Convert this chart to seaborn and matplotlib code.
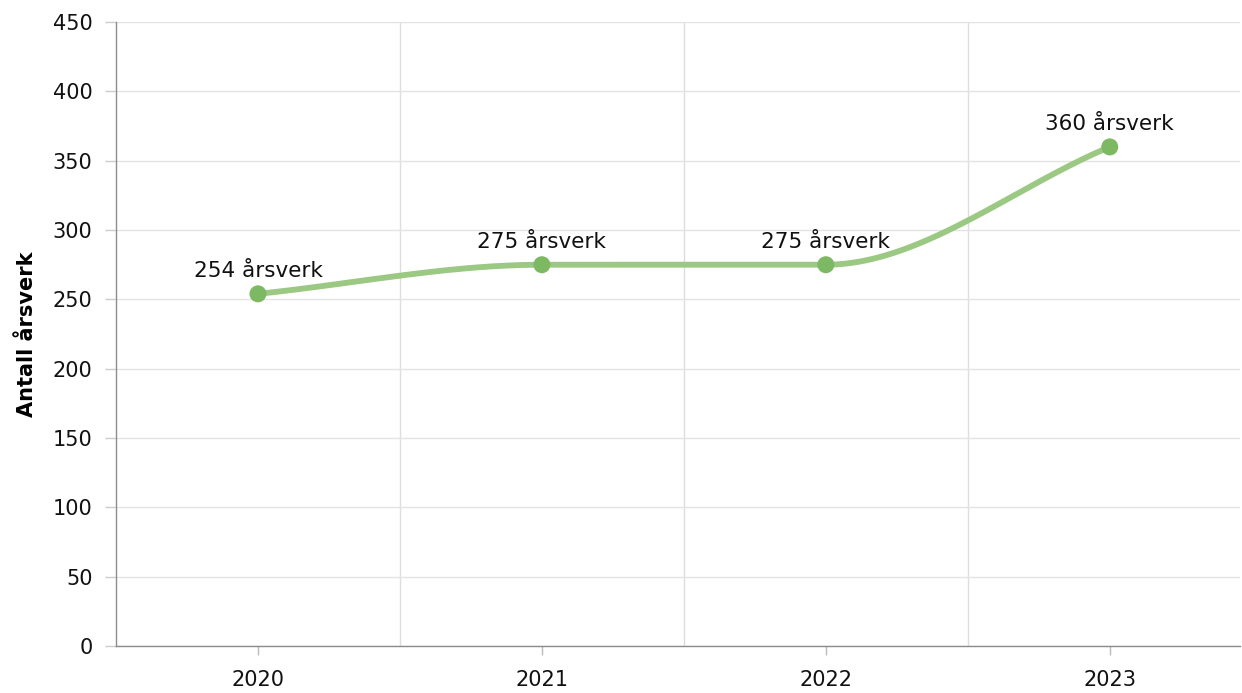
import numpy as np
import pandas as pd
import matplotlib
matplotlib.use('Agg')
import matplotlib.pyplot as plt
import seaborn as sns

years = ['2020', '2021', '2022', '2023']
values = [254, 275, 275, 360]
labels = ['254 årsverk', '275 årsverk', '275 årsverk', '360 årsverk']
y_ticks = list(range(0, 451, 50))

LINE_COLOR = '#9bc882'
MARKER_COLOR = '#7db862'


def monotone_curve(xs, ys, n=80):
    # monotone cubic (Fritsch-Carlson), endpoint tangents = adjacent secant
    xs = np.asarray(xs, float)
    ys = np.asarray(ys, float)
    k = len(xs)
    dx = np.diff(xs)
    delta = np.diff(ys) / dx
    m = np.zeros(k)
    m[0] = delta[0]
    m[-1] = delta[-1]
    for i in range(1, k - 1):
        if delta[i - 1] == 0 or delta[i] == 0 or np.sign(delta[i - 1]) != np.sign(delta[i]):
            m[i] = 0.0
        else:
            m[i] = (delta[i - 1] + delta[i]) / 2
    for i in range(k - 1):
        if delta[i] == 0:
            m[i] = m[i + 1] = 0.0
            continue
        a = m[i] / delta[i]
        b = m[i + 1] / delta[i]
        s = a * a + b * b
        if s > 9:
            tau = 3 / np.sqrt(s)
            m[i] = tau * a * delta[i]
            m[i + 1] = tau * b * delta[i]
    px, py = [], []
    t = np.linspace(0, 1, n)
    for i in range(k - 1):
        h00 = 2 * t ** 3 - 3 * t ** 2 + 1
        h10 = t ** 3 - 2 * t ** 2 + t
        h01 = -2 * t ** 3 + 3 * t ** 2
        h11 = t ** 3 - t ** 2
        px.extend(xs[i] + t * dx[i])
        py.extend(h00 * ys[i] + h10 * dx[i] * m[i] + h01 * ys[i + 1] + h11 * dx[i] * m[i + 1])
    return np.array(px), np.array(py)


df = pd.DataFrame({'year': years, 'value': values, 'label': labels})
df['pos'] = np.arange(len(df))

sns.set_theme(style='white')
plt.rcParams['font.family'] = ['DejaVu Sans']

fig = plt.figure(figsize=(12.42, 6.93), dpi=100)
ax = fig.add_axes([0.0934, 0.068, 0.9046, 0.9])

cx, cy = monotone_curve(df['pos'], df['value'])
curve = pd.DataFrame({'x': cx, 'y': cy})
sns.lineplot(data=curve, x='x', y='y', ax=ax, color=LINE_COLOR, linewidth=4.2,
             sort=False, solid_capstyle='round', zorder=3)
sns.scatterplot(data=df, x='pos', y='value', ax=ax, color=MARKER_COLOR, s=150,
                edgecolor='none', zorder=4)

for _, r in df.iterrows():
    ax.annotate(r['label'], (r['pos'], r['value']), xytext=(0, 12),
                textcoords='offset points', ha='center', va='baseline',
                fontsize=15.5, color='#111111', zorder=5)

ax.set_xlim(-0.5, 3.457)
ax.set_ylim(0, 450)
ax.set_yticks(y_ticks)
ax.set_xticks(df['pos'])
ax.set_xticklabels(years)
ax.set_xticks([0.5, 1.5, 2.5], minor=True)

ax.grid(False)
ax.yaxis.grid(True, color='#e3e3e3', linewidth=1)
ax.xaxis.grid(True, which='minor', color='#dddddd', linewidth=1)
for s in ['top', 'right']:
    ax.spines[s].set_visible(False)
for s in ['left', 'bottom']:
    ax.spines[s].set_color('#8c8c8c')
    ax.spines[s].set_linewidth(1)

ax.tick_params(axis='y', which='major', left=True, length=8, width=1, color='#cccccc',
               labelsize=15, labelcolor='#111111', pad=9)
ax.tick_params(axis='x', which='major', bottom=True, length=6.5, width=1, color='#bbbbbb',
               labelsize=15, labelcolor='#111111', pad=11)
ax.tick_params(axis='x', which='minor', bottom=False)

ax.set_xlabel('')
ax.set_ylabel('Antall årsverk', fontsize=15, fontweight='bold', color='#000000', labelpad=11)

fig.savefig('out.png', dpi=100)
